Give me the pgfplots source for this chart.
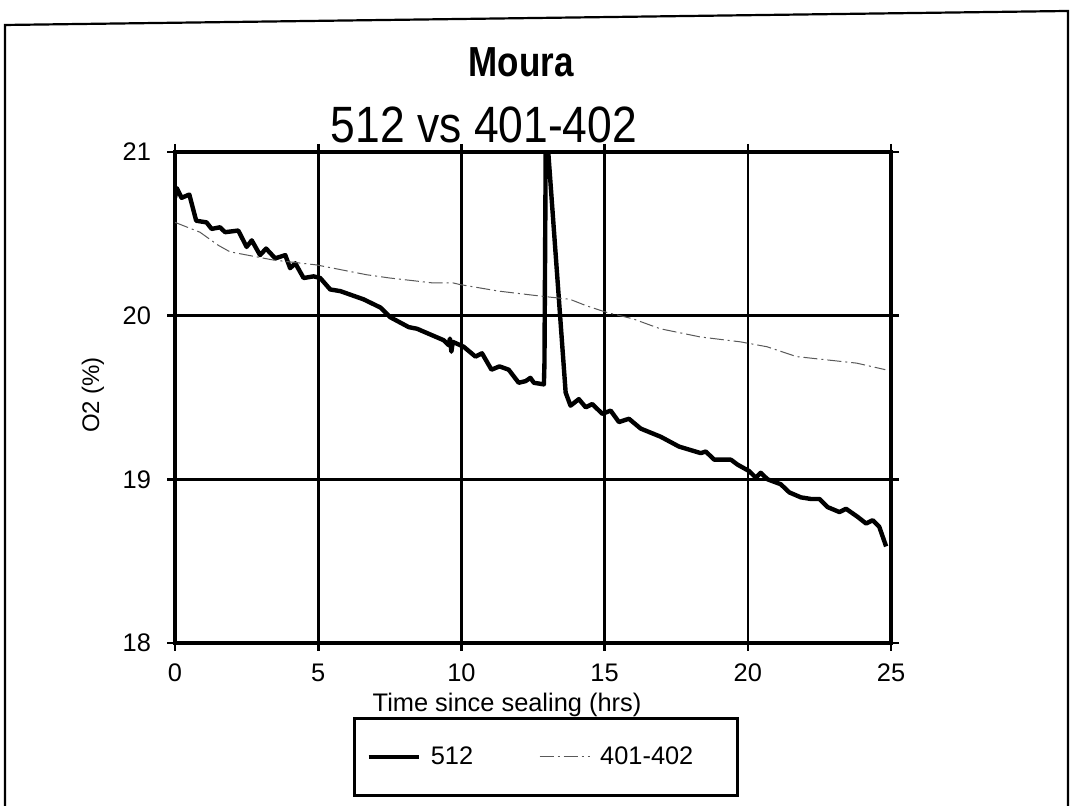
\documentclass[border=0pt]{standalone}
\usepackage{pgfplots}
\pgfplotsset{compat=1.18}
\usepackage{fontspec}
\setmainfont{Liberation Sans}
\usepackage{graphicx}
\begin{document}
\begin{tikzpicture}
\begin{scope}[x=0.5pt,y=0.5pt]
\path[use as bounding box] (0,0) rectangle (1075,806);
% outer frame
\draw[line width=1.1pt] (5,0) -- (5,781) -- (1068,795) -- (1068,0);
% titles
\node at (521,744) {\scalebox{1}[1.2]{\fontsize{17.5}{20}\selectfont\bfseries Moura}};
\node at (484,681) {\scalebox{1}[1.15]{\fontsize{22.2}{26}\selectfont 512 vs 401-402}};
\node[rotate=90] at (93,411) {\fontsize{12}{14}\selectfont O2 (\%)};
\node at (507,101) {\fontsize{12.7}{15}\selectfont Time since sealing (hrs)};
\end{scope}
\begin{axis}[
  at={(87.5pt,81.5pt)}, anchor=south west,
  scale only axis, width=358pt, height=245.5pt,
  xmin=0, xmax=25, ymin=18, ymax=21,
  xtick={0,5,10,15,20,25}, ytick={18,19,20,21},
  grid=major,
  major grid style={line width=1.3pt, black},
  axis line style={line width=1.8pt},
  tick align=outside, major tick length=4pt,
  tick style={line width=1.3pt, black},
  ticklabel style={font=\fontsize{12.7}{15}\selectfont},
  /pgf/number format/assume math mode=true,
  yticklabel style={xshift=-4.5pt},
  xticklabel style={yshift=-3pt},
  clip=true,
  legend columns=2,
  legend style={at={(0.518,-0.232)}, anchor=center, draw=black, line width=1.6pt,
    font=\fontsize{12.7}{15}\selectfont, inner xsep=6pt, inner ysep=12pt,
    /tikz/every even column/.append style={column sep=31pt}},
  legend image code/.code={\draw[#1] (0pt,0pt) -- (25pt,0pt); \path (28pt,0pt);},
]
\addplot[black, line width=2.2pt, line join=round] coordinates {
(0,20.72) (0.06,20.78) (0.23,20.72) (0.5,20.74) (0.74,20.58) (1.1,20.57)
(1.28,20.53) (1.57,20.54) (1.75,20.51) (2.21,20.52) (2.5,20.42) (2.68,20.46)
(2.97,20.37) (3.18,20.41) (3.5,20.35) (3.85,20.37) (4.02,20.29) (4.2,20.32)
(4.49,20.23) (4.84,20.24) (5.07,20.23) (5.42,20.16) (5.77,20.15) (6.58,20.10)
(7.17,20.05) (7.52,19.99) (8.16,19.93) (8.45,19.92) (9.38,19.85) (9.55,19.82)
(9.6,19.86) (9.65,19.78) (9.7,19.84) (10.08,19.81) (10.49,19.75) (10.72,19.77)
(11.05,19.67) (11.33,19.69) (11.65,19.67) (12.0,19.59) (12.24,19.60) (12.41,19.62)
(12.53,19.59) (12.88,19.58) (12.9,19.71) (12.95,21.2) (13.64,19.53) (13.81,19.45)
(14.1,19.49) (14.34,19.44) (14.57,19.46) (14.92,19.40) (15.21,19.42) (15.5,19.35)
(15.85,19.37) (16.26,19.31) (16.96,19.26) (17.6,19.20) (18.36,19.16) (18.53,19.17)
(18.83,19.12) (19.41,19.12) (19.64,19.09) (20.05,19.05) (20.28,19.01) (20.45,19.04)
(20.69,19.00) (21.15,18.97) (21.45,18.92) (21.85,18.89) (22.2,18.88) (22.5,18.88)
(22.79,18.83) (23.2,18.80) (23.43,18.82) (23.84,18.77) (24.13,18.73) (24.36,18.75)
(24.59,18.71) (24.83,18.59)
};
\addlegendentry{512}
\addplot[black!65, line width=0.5pt, dash pattern=on 7pt off 2pt on 1pt off 2pt] coordinates {
(0,20.57) (0.87,20.51) (1.51,20.43) (1.92,20.39) (3.43,20.34) (4.94,20.31)
(6.69,20.25) (7.5,20.23) (9.0,20.20) (9.71,20.20) (9.95,20.19) (11.3,20.15)
(12.74,20.12) (13.79,20.10) (14.37,20.06) (15.07,20.02) (16.0,19.98) (16.94,19.92)
(18.34,19.87) (19.74,19.84) (20.67,19.81) (21.7,19.75) (22.75,19.73) (23.8,19.71)
(24.8,19.67)
};
\addlegendentry{401-402\hspace*{14pt}\mbox{}}
\end{axis}
\end{tikzpicture}
\end{document}
